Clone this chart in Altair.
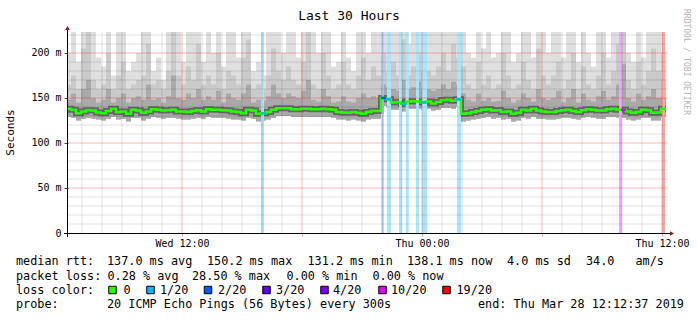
import altair as alt
import pandas as pd

# ---------------- data (hours since Wed 00:00, 15 min steps) ----------------
t_start = 6.2
step = 0.25

median = [138, 137, 133, 135, 136.5, 136, 134, 133, 135.5, 138, 134.5, 135, 132.5, 137, 136, 133.5, 135, 137.5, 137, 136, 136.5, 137, 135, 135, 134.5,
          135.5, 136.5, 135, 137.5, 137, 137, 136.5, 136, 135, 134.5, 133, 137, 136, 132.5, 133, 134.5, 137, 138.5, 138.5, 138.5, 137.5, 137.5, 138, 138,
          137.5, 137.5, 138, 137.5, 137, 134.5, 134, 133.5, 134.5, 133.5, 132.5, 134.5, 135.5, 135.5, 150, 148.5, 145, 145.5, 143.5, 146, 146.5, 146, 145, 146,
          144, 145.5, 147.5, 148, 147, 148.5, 132.5, 133, 134.5, 135.5, 137, 137.5, 136, 136.5, 134.5, 135, 132.5, 133.5, 137, 136, 138, 136, 135, 134.5,
          134.5, 135.5, 136.5, 137, 135.5, 134.5, 136.5, 137.5, 137, 136, 136, 137.5, 138, 137, 137, 135, 133.5, 134.5, 137, 136.5, 133.5, 134, 138]

low = [129, 128, 125, 127, 128, 127, 126, 125, 127, 129, 126, 127, 124, 128, 128, 125, 127, 129, 128, 127, 128, 128, 127, 126, 126,
       127, 128, 127, 129, 128, 128, 128, 127, 126, 126, 125, 128, 127, 124, 125, 126, 128, 130, 130, 130, 129, 129, 129, 129,
       129, 129, 129, 129, 128, 126, 126, 125, 126, 125, 124, 126, 127, 127, 141, 140, 137, 137, 135, 138, 138, 138, 137, 138,
       136, 137, 139, 139, 138, 140, 124, 125, 126, 127, 128, 129, 127, 128, 126, 127, 124, 125, 128, 127, 129, 127, 127, 126,
       126, 127, 128, 128, 127, 126, 128, 129, 128, 127, 127, 129, 129, 128, 128, 126, 125, 126, 128, 128, 125, 125, 129]

dark = [148, 155, 145, 160, 170, 150, 145, 148, 160, 145, 150, 155, 145, 150, 152, 148, 165, 148, 150, 145, 152, 175, 150, 148, 155,
        150, 160, 148, 152, 148, 158, 145, 155, 150, 148, 155, 165, 145, 148, 147, 152, 165, 155, 150, 155, 152, 150, 158, 170,
        148, 146, 160, 152, 145, 146, 152, 146, 145, 150, 155, 150, 152, 150, 165, 162, 160, 158, 170, 160, 162, 168, 160, 160,
        158, 160, 165, 160, 168, 165, 155, 148, 146, 155, 147, 150, 146, 147, 158, 150, 145, 148, 155, 150, 146, 160, 150, 148,
        150, 158, 145, 150, 160, 145, 155, 148, 146, 152, 158, 148, 152, 165, 188, 150, 146, 155, 148, 152, 160, 150, 150]

mid = [165, 175, 160, 205, 228, 170, 160, 165, 200, 160, 175, 190, 160, 165, 170, 175, 210, 165, 170, 160, 180, 228, 175, 165, 185,
       170, 210, 165, 175, 165, 200, 160, 180, 175, 165, 195, 215, 160, 165, 160, 175, 205, 180, 170, 185, 170, 165, 190, 228,
       165, 160, 200, 175, 160, 165, 190, 165, 160, 175, 195, 170, 185, 175, 200, 180, 190, 175, 215, 175, 185, 200, 180, 180,
       175, 185, 200, 180, 210, 195, 185, 165, 160, 190, 165, 175, 160, 165, 200, 175, 160, 165, 190, 170, 160, 205, 175, 165,
       175, 190, 160, 170, 200, 160, 185, 165, 160, 175, 200, 165, 180, 210, 228, 170, 160, 190, 165, 180, 205, 180, 170]

high = [200, 228, 190, 228, 228, 228, 195, 185, 228, 175, 228, 228, 180, 190, 200, 228, 228, 180, 195, 170, 228, 228, 228, 190, 228,
        228, 228, 190, 228, 200, 228, 185, 228, 228, 195, 228, 228, 180, 190, 175, 228, 228, 228, 200, 228, 228, 195, 228, 228,
        228, 200, 228, 228, 185, 190, 228, 195, 180, 228, 228, 200, 228, 228, 228, 228, 228, 228, 228, 210, 228, 228, 228, 228,
        228, 228, 228, 228, 228, 228, 228, 200, 195, 228, 205, 228, 195, 200, 228, 228, 190, 200, 228, 228, 195, 228, 228, 200,
        228, 228, 195, 228, 228, 190, 228, 200, 185, 228, 228, 195, 228, 228, 228, 200, 190, 228, 195, 228, 228, 228, 200]

# packet loss events (hours), loss count out of 20
loss_start = [15.95, 21.985, 22.25, 22.85, 23.185, 23.7, 24.0, 25.75, 33.85, 36.0]
loss_end = [16.1, 22.085, 22.45, 23.0, 23.335, 23.85, 24.25, 25.95, 34.0, 36.15]
loss_count = [1, 2, 1, 1, 1, 1, 1, 1, 10, 19]

# median samples coloured by loss
med_loss_idx = [39, 63, 64, 67, 71, 78, 111]
med_loss_cnt = [1, 2, 1, 1, 1, 1, 10]

loss_keys = [0, 1, 2, 3, 4, 10, 19]
loss_labels = ["0", "1/20", "2/20", "3/20", "4/20", "10/20", "19/20"]
loss_colors = ["#26ff00", "#00b8ff", "#0059ff", "#5e00ff", "#7e00ff", "#dd00ff", "#ff0000"]

y_major = [50, 100, 150, 200]
y_minor = [10, 20, 30, 40, 60, 70, 80, 90, 110, 120, 130, 140, 160, 170, 180, 190, 210, 220]
y_ticks = [0, 50, 100, 150, 200]
x_major = [12, 18, 24, 30, 36]
x_minor = [7, 8, 9, 10, 11, 13, 14, 15, 16, 17, 19, 20, 21, 22, 23, 25, 26, 27, 28, 29, 31, 32, 33, 34, 35]

# legend text pieces
rtt_parts = ["median rtt:", "137.0 ms avg", "150.2 ms max", "131.2 ms min", "138.1 ms now", "4.0 ms sd", "34.0", "am/s"]
loss_parts = ["packet loss:", "0.28 % avg", "28.50 % max", "0.00 % min", "0.00 % now"]
color_title = "loss color:"
probe_parts = ["probe:", "20 ICMP Echo Pings (56 Bytes) every 300s", "end: Thu Mar 28 12:12:37 2019"]

# ---------------- frames ----------------
n = len(median)
t = [t_start + step * i for i in range(n)]
df = pd.DataFrame({"t": t, "med": median, "lo": low, "dk": dark, "md": mid, "hi": high})
df = pd.concat([df, df.iloc[[-1]].assign(t=t_start + step * n)], ignore_index=True)

loss_df = pd.DataFrame({"a": loss_start, "b": loss_end,
                        "c": [str(c) for c in loss_count]})
ml_df = pd.DataFrame({"a": [t[i] for i in med_loss_idx],
                      "b": [t[i] + step for i in med_loss_idx],
                      "v": [median[i] for i in med_loss_idx],
                      "c": [str(c) for c in med_loss_cnt]})

W, H = 600, 201
FONT = "DejaVu Sans Mono"
xs = alt.Scale(domain=[6.3, 36.3], nice=False, zero=False)
ys = alt.Scale(domain=[0, 223.33], nice=False)
cscale = alt.Scale(domain=[str(k) for k in loss_keys], range=loss_colors)

xaxis = alt.Axis(values=x_major, title=None, grid=False, domain=False,
                 tickSize=3, tickColor="#f4a0a0", labelFont=FONT, labelFontSize=10,
                 labelColor="#000", labelPadding=2, labelFlush=False, labelOverlap=False,
                 labelBound=False,
                 labelExpr="datum.value == 12 ? 'Wed 12:00' : datum.value == 24 ? 'Thu 00:00' : datum.value == 36 ? 'Thu 12:00' : ''")
yaxis = alt.Axis(values=y_ticks, title="Seconds", grid=False, domain=False,
                 tickSize=4, tickColor="#444", labelFont=FONT, labelFontSize=10,
                 labelColor="#000", labelPadding=3,
                 labelExpr="datum.value == 0 ? '0' : datum.value + ' m'",
                 titleFont=FONT, titleFontSize=11, titleFontWeight="normal",
                 titleColor="#000", titleX=-53, titleY=100, titleAngle=270)


def X(f):
    return alt.X(f + ":Q", scale=xs, axis=xaxis)


def Y(f):
    return alt.Y(f + ":Q", scale=ys, axis=yaxis)


base = alt.Chart(df)

# smoke
smoke_hi = base.mark_area(interpolate="step-after", color="#dfdfdf", clip=True).encode(x=X("t"), y=Y("lo"), y2="hi:Q")
smoke_md = base.mark_area(interpolate="step-after", color="#cacaca", clip=True).encode(x=X("t"), y=Y("lo"), y2="md:Q")
smoke_dk = base.mark_area(interpolate="step-after", color="#a9a9a9", clip=True).encode(x=X("t"), y=Y("lo"), y2="dk:Q")

# loss bars
lb = alt.Chart(loss_df)
loss_white = lb.mark_rect(color="white", clip=True).encode(x=X("a"), x2="b:Q", y=alt.value(0), y2=alt.value(H))
loss_col = lb.mark_rect(opacity=0.35, clip=True).encode(
    x=X("a"), x2="b:Q", y=alt.value(0), y2=alt.value(H),
    color=alt.Color("c:N", scale=cscale, legend=None))

# grid
gy_minor = alt.Chart(pd.DataFrame({"g": y_minor})).mark_rule(color="#000", opacity=0.12).encode(
    y=Y("g"), x=alt.value(0), x2=alt.value(W))
gy_major = alt.Chart(pd.DataFrame({"g": y_major})).mark_rule(color="#ff0000", opacity=0.28).encode(
    y=Y("g"), x=alt.value(0), x2=alt.value(W))
gx_minor = alt.Chart(pd.DataFrame({"g": x_minor})).mark_rule(color="#000", opacity=0.12).encode(
    x=X("g"), y=alt.value(0), y2=alt.value(H))
gx_major = alt.Chart(pd.DataFrame({"g": x_major})).mark_rule(color="#ff0000", opacity=0.28).encode(
    x=X("g"), y=alt.value(0), y2=alt.value(H))

# median
med_dark = base.mark_line(interpolate="step-after", color="#555555", strokeWidth=6, opacity=0.8, clip=True).encode(x=X("t"), y=Y("med"))
med_line = base.mark_line(interpolate="step-after", color="#26ff00", strokeWidth=2.5, clip=True).encode(x=X("t"), y=Y("med"))
med_loss = alt.Chart(ml_df).mark_rule(strokeWidth=2.5, clip=True).encode(
    x=X("a"), x2="b:Q", y=Y("v"), color=alt.Color("c:N", scale=cscale, legend=None))

one = pd.DataFrame({"k": [0]})

# axis lines and arrows
x_line = alt.Chart(one).mark_rule(color="#000", strokeWidth=1).encode(
    x=alt.value(-4), x2=alt.value(W + 3), y=alt.value(H + 0.5))
y_line = alt.Chart(one).mark_rule(color="#000", strokeWidth=1).encode(
    x=alt.value(-0.5), y=alt.value(-3), y2=alt.value(H + 4))
arrow_up = alt.Chart(one).mark_point(shape="triangle-up", filled=True, color="#8b1a1a", size=22, opacity=1).encode(
    x=alt.value(-0.5), y=alt.value(-4))
arrow_right = alt.Chart(one).mark_point(shape="triangle-right", filled=True, color="#8b1a1a", size=22, opacity=1).encode(
    x=alt.value(W + 4), y=alt.value(H + 0.5))


def txt(s, x, y, size, color="#000", align="left", angle=0):
    return alt.Chart(pd.DataFrame({"s": [s.replace(" ", "\u00a0")]})).mark_text(
        font=FONT, fontSize=size, color=color, align=align, baseline="middle", angle=angle
    ).encode(text="s:N", x=alt.value(x), y=alt.value(y))


OX, OY = 68, 32
LF = 11.8
texts = [
    txt("Last 30 Hours", 349 - OX, 16 - OY, 13, align="center"),
    txt("RRDTOOL / TOBI OETIKER", 686 - OX, 62 - OY, 8, color="#b4b4b4", align="center", angle=90),
]
for s, px in zip(rtt_parts, [16, 107, 207, 307.5, 407, 507, 586, 635.5]):
    texts.append(txt(s, px - OX, 261 - OY, LF))
for s, px in zip(loss_parts, [16, 107.5, 192, 286.5, 372.5]):
    texts.append(txt(s, px - OX, 276 - OY, LF))
texts.append(txt(color_title, 16 - OX, 290 - OY, LF))
for s, px in zip(probe_parts, [16, 107, 478]):
    texts.append(txt(s, px - OX, 304 - OY, LF))

sq_x = [112.5, 150.5, 208, 266.5, 324.5, 382.5, 446.5]
lab_x = [123.5, 160, 218, 276, 333, 391, 456.5]
legend_sq = []
for lab, col, sx, lx in zip(loss_labels, loss_colors, sq_x, lab_x):
    legend_sq.append(alt.Chart(one).mark_square(color=col, stroke="#000", strokeWidth=1, size=56, opacity=1).encode(
        x=alt.value(sx - OX), y=alt.value(290 - OY)))
    texts.append(txt(lab, lx - OX, 290 - OY, LF))

chart = alt.layer(
    smoke_hi, smoke_md, smoke_dk, med_dark,
    loss_white, loss_col,
    gy_minor, gx_minor, gy_major, gx_major,
    med_line, med_loss,
    x_line, y_line, arrow_up, arrow_right,
    *legend_sq, *texts
).properties(
    width=W, height=H,
    autosize=alt.AutoSizeParams(type="none"),
    padding={"left": OX, "top": OY, "right": 697 - OX - W, "bottom": 321 - OY - H},
    background="white",
).configure_view(stroke=None)

chart.save("out.html", embed_options={"renderer": "svg", "actions": False})
